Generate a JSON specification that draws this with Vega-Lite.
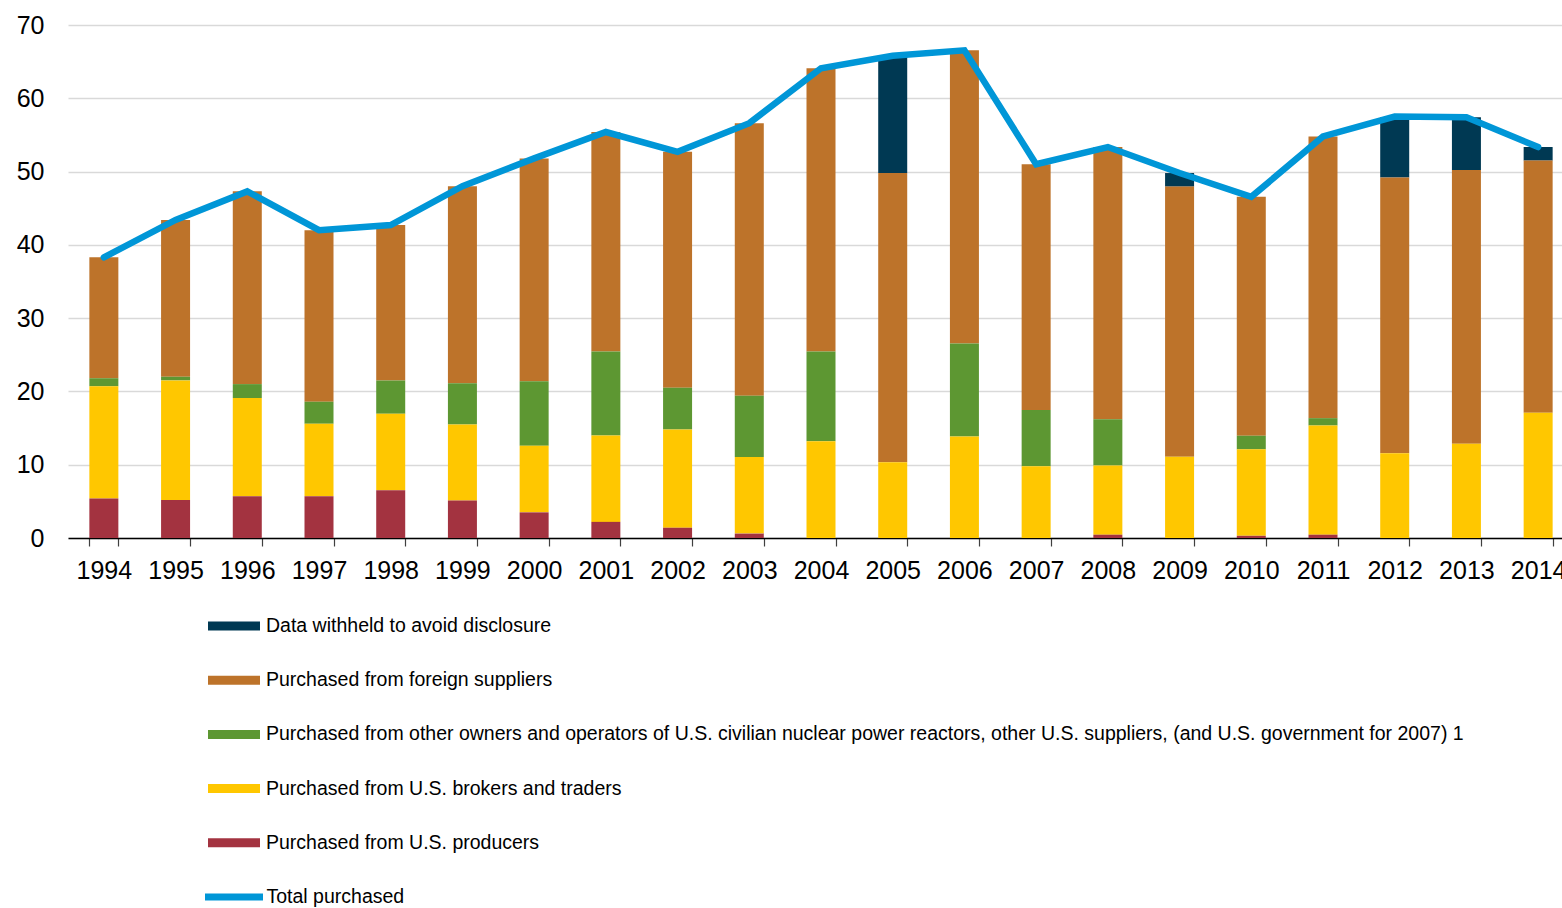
{
  "$schema": "https://vega.github.io/schema/vega-lite/v6.json",
  "width": 1494,
  "height": 513,
  "autosize": {"type": "none"},
  "padding": {"left": 68, "top": 25, "right": 0, "bottom": 370},
  "config": {
    "view": {"stroke": null},
    "font": "Liberation Sans",
    "axis": {"labelFont": "Liberation Sans", "labelColor": "#000000"},
    "legend": {"labelFont": "Liberation Sans", "labelColor": "#000000"}
  },
  "data": {
    "values": [
      {"year": "1994", "p": 5.4, "b": 15.3, "o": 1.1, "f": 16.5, "w": 0, "t": 38.3},
      {"year": "1995", "p": 5.2, "b": 16.3, "o": 0.5, "f": 21.4, "w": 0, "t": 43.4},
      {"year": "1996", "p": 5.7, "b": 13.4, "o": 1.9, "f": 26.3, "w": 0, "t": 47.3},
      {"year": "1997", "p": 5.7, "b": 9.9, "o": 3.0, "f": 23.4, "w": 0, "t": 42.0},
      {"year": "1998", "p": 6.5, "b": 10.45, "o": 4.55, "f": 21.2, "w": 0, "t": 42.7},
      {"year": "1999", "p": 5.1, "b": 10.4, "o": 5.6, "f": 26.9, "w": 0, "t": 48.0},
      {"year": "2000", "p": 3.5, "b": 9.1, "o": 8.8, "f": 30.4, "w": 0, "t": 51.8},
      {"year": "2001", "p": 2.2, "b": 11.8, "o": 11.45, "f": 29.95, "w": 0, "t": 55.4},
      {"year": "2002", "p": 1.4, "b": 13.4, "o": 5.7, "f": 32.2, "w": 0, "t": 52.7},
      {"year": "2003", "p": 0.6, "b": 10.45, "o": 8.35, "f": 37.2, "w": 0, "t": 56.6},
      {"year": "2004", "p": 0, "b": 13.2, "o": 12.25, "f": 38.65, "w": 0, "t": 64.1},
      {"year": "2005", "p": 0, "b": 10.35, "o": 0, "f": 39.45, "w": 16.0, "t": 65.8},
      {"year": "2006", "p": 0, "b": 13.85, "o": 12.7, "f": 40.0, "w": 0, "t": 66.55},
      {"year": "2007", "p": 0, "b": 9.8, "o": 7.65, "f": 33.55, "w": 0, "t": 51.0},
      {"year": "2008", "p": 0.45, "b": 9.45, "o": 6.3, "f": 37.15, "w": 0, "t": 53.35},
      {"year": "2009", "p": 0, "b": 11.1, "o": 0, "f": 36.85, "w": 1.85, "t": 49.8},
      {"year": "2010", "p": 0.3, "b": 11.8, "o": 1.85, "f": 32.6, "w": 0, "t": 46.55},
      {"year": "2011", "p": 0.45, "b": 14.9, "o": 1.0, "f": 38.45, "w": 0, "t": 54.8},
      {"year": "2012", "p": 0, "b": 11.55, "o": 0, "f": 37.65, "w": 8.2, "t": 57.5},
      {"year": "2013", "p": 0, "b": 12.85, "o": 0, "f": 37.35, "w": 7.2, "t": 57.4},
      {"year": "2014", "p": 0, "b": 17.1, "o": 0, "f": 34.4, "w": 1.85, "t": 53.35}
    ]
  },
  "layer": [
    {
      "transform": [
        {"fold": ["w", "f", "o", "b", "p"], "as": ["cat", "v"]},
        {"calculate": "indexof(['p','b','o','f','w'], datum.cat)", "as": "ord"}
      ],
      "mark": {"type": "bar"},
      "encoding": {
        "x": {
          "field": "year",
          "type": "ordinal",
          "title": null,
          "scale": {"range": [0, 1506], "paddingInner": 0.5956, "paddingOuter": 0.2978},
          "axis": {
            "labelAngle": 0,
            "labelFontSize": 25,
            "labelPadding": 12,
            "tickBand": "extent",
            "tickSize": 8,
            "tickColor": "#404040",
            "tickWidth": 1.2,
            "domainColor": "#000000",
            "domainWidth": 1.5,
            "grid": false
          }
        },
        "y": {
          "field": "v",
          "type": "quantitative",
          "stack": "zero",
          "title": null,
          "scale": {"domain": [0, 70], "nice": false},
          "axis": {
            "values": [0, 10, 20, 30, 40, 50, 60, 70],
            "domain": false,
            "ticks": false,
            "tickSize": 0,
            "labelPadding": 24,
            "labelFontSize": 25,
            "gridColor": "#d9d9d9",
            "gridWidth": 1.3
          }
        },
        "color": {
          "field": "cat",
          "type": "nominal",
          "scale": {
            "domain": ["w", "f", "o", "b", "p"],
            "range": ["#003953", "#BD732A", "#5D9732", "#FFC700", "#A33340"]
          },
          "legend": {
            "title": null,
            "orient": "none",
            "legendX": 140,
            "legendY": 575,
            "direction": "vertical",
            "padding": 0,
            "symbolType": "M-1,-0.173L1,-0.173L1,0.173L-1,0.173Z",
            "symbolSize": 2704,
            "symbolStrokeWidth": 0,
            "symbolOpacity": 1,
            "labelFontSize": 19.5,
            "labelOffset": 6,
            "rowPadding": 18.2,
            "labelLimit": 2000,
            "labelExpr": "{'w': 'Data withheld to avoid disclosure', 'f': 'Purchased from foreign suppliers', 'o': 'Purchased from other owners and operators of U.S. civilian nuclear power reactors, other U.S. suppliers, (and U.S. government for 2007) 1', 'b': 'Purchased from U.S. brokers and traders', 'p': 'Purchased from U.S. producers'}[datum.value]"
          }
        },
        "order": {"field": "ord", "type": "quantitative"}
      }
    },
    {
      "transform": [{"fold": ["t"], "as": ["cat", "v"]}],
      "mark": {"type": "line", "strokeWidth": 6.5, "strokeCap": "round", "strokeJoin": "miter"},
      "encoding": {
        "x": {"field": "year", "type": "ordinal"},
        "y": {"field": "v", "type": "quantitative", "stack": null},
        "stroke": {
          "field": "cat",
          "type": "nominal",
          "scale": {"domain": ["t"], "range": ["#0096D7"]},
          "legend": {
            "title": null,
            "orient": "none",
            "legendX": 133.5,
            "legendY": 839.5,
            "direction": "vertical",
            "padding": 0,
            "symbolType": "stroke",
            "symbolSize": 3364,
            "symbolStrokeWidth": 7,
            "labelFontSize": 19.5,
            "labelOffset": 0,
            "labelLimit": 2000,
            "labelExpr": "'Total purchased'"
          }
        }
      }
    }
  ]
}
